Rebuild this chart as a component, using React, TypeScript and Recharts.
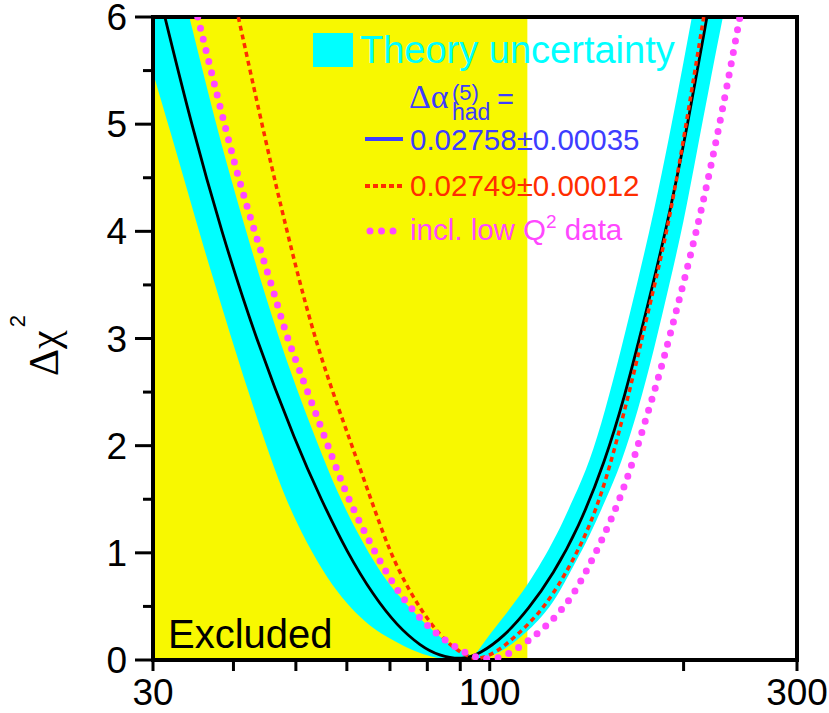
import React from "react";
import { Area, ComposedChart, Line, ReferenceArea, XAxis, YAxis } from "recharts";

// Delta chi^2 vs Higgs mass (GeV), log x axis.

const X_TICKS = [30, 40, 50, 60, 70, 80, 90, 100, 200, 300];
const X_LABELS = [30, 100, 300];
const Y_TICKS = [0, 0.5, 1, 1.5, 2, 2.5, 3, 3.5, 4, 4.5, 5, 5.5, 6];
const EXCLUDED_LIMIT = 114.4;

// theory uncertainty band: lower / upper edge at each mass
const bandMass = [30, 32, 34, 36, 38, 40, 42, 44, 47, 50, 54, 58, 62, 66, 70, 75, 80, 85, 90, 93, 94.5, 97, 100, 105, 110, 115, 120, 127, 135, 143, 151, 160, 170, 180, 190, 200, 210, 220, 230];
const bandLow = [5.48, 4.91, 4.36, 3.84, 3.38, 2.94, 2.54, 2.17, 1.67, 1.29, 0.91, 0.63, 0.43, 0.29, 0.2, 0.1, 0.04, 0, 0, 0, 0, 0, 0.03, 0.09, 0.18, 0.28, 0.39, 0.58, 0.88, 1.16, 1.48, 1.83, 2.33, 2.9, 3.5, 4.08, 4.76, 5.4, 5.99];
const bandHigh = [7.35, 6.68, 6.05, 5.45, 4.89, 4.41, 3.97, 3.56, 3.01, 2.55, 2.02, 1.56, 1.21, 0.92, 0.69, 0.49, 0.32, 0.18, 0.09, 0.05, 0.03, 0.13, 0.24, 0.4, 0.56, 0.72, 0.9, 1.16, 1.51, 1.85, 2.32, 2.9, 3.55, 4.19, 4.88, 5.58, 6.27, 6.96, 7.69];

// 0.02758 +- 0.00035 (solid)
const blackMass = [31.3, 34.4, 38.3, 43.3, 50.2, 54.7, 60.1, 66.0, 71.8, 78.1, 83.4, 90.7, 96.6, 104.9, 115.1, 125.4, 137.1, 151.0, 162.2, 172.3, 187.8, 203.1, 217.4];
const blackChi2 = [6, 5, 4, 3, 2, 1.5, 1, 0.6, 0.32, 0.13, 0.04, 0, 0.06, 0.21, 0.48, 0.8, 1.22, 1.85, 2.47, 3.09, 4, 5, 6];

// 0.02749 +- 0.00012 (dashed)
const redMass = [40.7, 45.1, 48.3, 51.3, 55.1, 61.1, 65.4, 70.0, 75.2, 80.8, 86.8, 92.8, 95.6, 102.5, 110.1, 118.3, 127.1, 141.4, 151.9, 161.2, 169.1, 173.6, 188.9, 201.9, 214.9];
const redChi2 = [6, 4.78, 4.03, 3.4, 2.75, 2.0, 1.5, 1.0, 0.63, 0.34, 0.13, 0.03, 0, 0.07, 0.23, 0.41, 0.66, 1.16, 1.69, 2.28, 2.78, 3.09, 4, 5, 6];

// incl. low Q^2 data (dotted)
const pinkMass = [35.2, 39.8, 41.7, 43.7, 45.9, 48.1, 50.0, 56.1, 60.2, 66.4, 70.0, 73.4, 77.4, 81.6, 86.8, 93.2, 99.0, 104.9, 111.4, 118.3, 124.0, 129.9, 136.6, 147.3, 157.6, 166.3, 174.2, 182.8, 190.5, 209.8, 227.8, 244.6];
const pinkChi2 = [6, 4.71, 4.29, 3.89, 3.49, 3.07, 2.79, 2.0, 1.5, 1.0, 0.76, 0.57, 0.41, 0.27, 0.15, 0.04, 0, 0.025, 0.12, 0.24, 0.35, 0.48, 0.66, 1.04, 1.43, 1.82, 2.22, 2.63, 3.03, 4, 5, 6];

const YELLOW = "#f8f800";
const CYAN = "#00ffff";
const BLUE = "#3d3dff";
const RED = "#ff2d00";
const PINK = "#ff48ff";
const FONT = "'Liberation Sans', Arial, Helvetica, sans-serif";
const SERIF = "'Liberation Serif', 'Times New Roman', serif";

const bandData = bandMass.map((m, i) => ({ m, band: [bandLow[i], bandHigh[i]] }));
const blackData = blackMass.map((m, i) => ({ m, chi2: blackChi2[i] }));
const redData = redMass.map((m, i) => ({ m, chi2: redChi2[i] }));
const pinkData = pinkMass.map((m, i) => ({ m, chi2: pinkChi2[i] }));

function LeftTick(props: any) {
    const { x, y, payload } = props;
    const v = payload.value as number;
    const major = Number.isInteger(v);
    return (
        <g>
            <line x1={x - (major ? 18 : 10)} x2={x} y1={y} y2={y} stroke="#000" strokeWidth={3} />
            {major && (
                <text x={x - 26} y={y + 13} textAnchor="end" fontSize={37} fontFamily={FONT} fill="#000">
                    {v}
                </text>
            )}
        </g>
    );
}

function RightTick(props: any) {
    const { x, y, payload } = props;
    const major = Number.isInteger(payload.value);
    return <line x1={x - (major ? 20 : 10)} x2={x} y1={y} y2={y} stroke="#000" strokeWidth={3} />;
}

function BottomTick(props: any) {
    const { x, y, payload } = props;
    const v = payload.value as number;
    return (
        <g>
            <line x1={x} x2={x} y1={y} y2={y + 11} stroke="#000" strokeWidth={3} />
            {X_LABELS.includes(v) && (
                <text x={x} y={y + 45} textAnchor="middle" fontSize={37} fontFamily={FONT} fill="#000">
                    {v}
                </text>
            )}
        </g>
    );
}

function TopTick(props: any) {
    const { x, y } = props;
    return <line x1={x} x2={x} y1={y} y2={y + 11} stroke="#000" strokeWidth={3} />;
}

export default function App() {
    return (
        <div style={{ position: "absolute", left: 0, top: 0, width: 829, height: 713, background: "#fff", fontFamily: FONT }}>
            <ComposedChart width={829} height={713} margin={{ top: 17, right: 32, bottom: 0, left: 0 }}>
                <XAxis
                    xAxisId="top"
                    orientation="top"
                    type="number"
                    dataKey="m"
                    scale="log"
                    domain={[30, 300]}
                    allowDataOverflow
                    ticks={X_TICKS}
                    interval={0}
                    height={0}
                    axisLine={false}
                    tickLine={false}
                    tickSize={0}
                    tickMargin={0}
                    tick={<TopTick />}
                />
                <YAxis
                    yAxisId="right"
                    orientation="right"
                    type="number"
                    domain={[0, 6]}
                    allowDataOverflow
                    ticks={Y_TICKS}
                    interval={0}
                    width={0}
                    axisLine={false}
                    tickLine={false}
                    tickSize={0}
                    tickMargin={0}
                    tick={<RightTick />}
                />
                <XAxis
                    type="number"
                    dataKey="m"
                    scale="log"
                    domain={[30, 300]}
                    allowDataOverflow
                    ticks={X_TICKS}
                    interval={0}
                    height={53}
                    axisLine={false}
                    tickLine={false}
                    tickSize={0}
                    tickMargin={0}
                    tick={<BottomTick />}
                />
                <YAxis
                    type="number"
                    domain={[0, 6]}
                    allowDataOverflow
                    ticks={Y_TICKS}
                    interval={0}
                    width={153}
                    axisLine={false}
                    tickLine={false}
                    tickSize={0}
                    tickMargin={0}
                    tick={<LeftTick />}
                />
                <ReferenceArea x1={30} x2={EXCLUDED_LIMIT} y1={0} y2={6} fill={YELLOW} fillOpacity={1} stroke="none" />
                <Area
                    data={bandData}
                    dataKey="band"
                    type="basis"
                    fill={CYAN}
                    fillOpacity={1}
                    stroke="none"
                    isAnimationActive={false}
                />
                <Line data={blackData} dataKey="chi2" type="basis" stroke="#000" strokeWidth={2.8} dot={false} isAnimationActive={false} />
                <Line
                    data={redData}
                    dataKey="chi2"
                    type="basis"
                    stroke={RED}
                    strokeWidth={3.5}
                    strokeDasharray="5 4"
                    dot={false}
                    isAnimationActive={false}
                />
                <Line
                    data={pinkData}
                    dataKey="chi2"
                    type="basis"
                    stroke={PINK}
                    strokeWidth={7}
                    strokeLinecap="round"
                    strokeDasharray="0 11.5"
                    dot={false}
                    isAnimationActive={false}
                />
                <ReferenceArea x1={30} x2={300} y1={0} y2={6} fill="none" stroke="#000" strokeWidth={4} />
            </ComposedChart>
            <svg width={829} height={713} style={{ position: "absolute", left: 0, top: 0, pointerEvents: "none" }} fontFamily={FONT}>
                <text transform="translate(58,376) rotate(-90)" fontSize={42} fontFamily={SERIF} fill="#000">
                    Δχ
                    <tspan dx={3} dy={-33} fontSize={22} fontFamily={FONT}>
                        2
                    </tspan>
                </text>
                <rect x={313} y={33} width={40} height={34} fill={CYAN} />
                <text x={360} y={63} fontSize={38} fill={CYAN}>
                    Theory uncertainty
                </text>
                <text x={409} y={108} fontSize={34} fill={BLUE} fontFamily={SERIF}>
                    Δα
                </text>
                <text x={452} y={100} fontSize={22} fill={BLUE}>
                    (5)
                </text>
                <text x={452} y={120} fontSize={23} fill={BLUE}>
                    had
                </text>
                <text x={497} y={109} fontSize={29} fill={BLUE}>
                    =
                </text>
                <line x1={365} x2={403} y1={139} y2={139} stroke={BLUE} strokeWidth={4} />
                <text x={410} y={150} fontSize={29.5} fill={BLUE}>
                    0.02758±0.00035
                </text>
                <line x1={365} x2={403} y1={186} y2={186} stroke={RED} strokeWidth={4} strokeDasharray="5 3" />
                <text x={410} y={196} fontSize={29.5} fill={RED}>
                    0.02749±0.00012
                </text>
                <line x1={370} x2={394} y1={231} y2={231} stroke={PINK} strokeWidth={7} strokeLinecap="round" strokeDasharray="0 11.5" />
                <text x={410} y={240} fontSize={29.5} fill={PINK}>
                    incl. low Q
                    <tspan dy={-12} fontSize={19}>
                        2
                    </tspan>
                    <tspan dy={12}> data</tspan>
                </text>
                <text x={168} y={648} fontSize={40} fill="#000">
                    Excluded
                </text>
            </svg>
        </div>
    );
}
